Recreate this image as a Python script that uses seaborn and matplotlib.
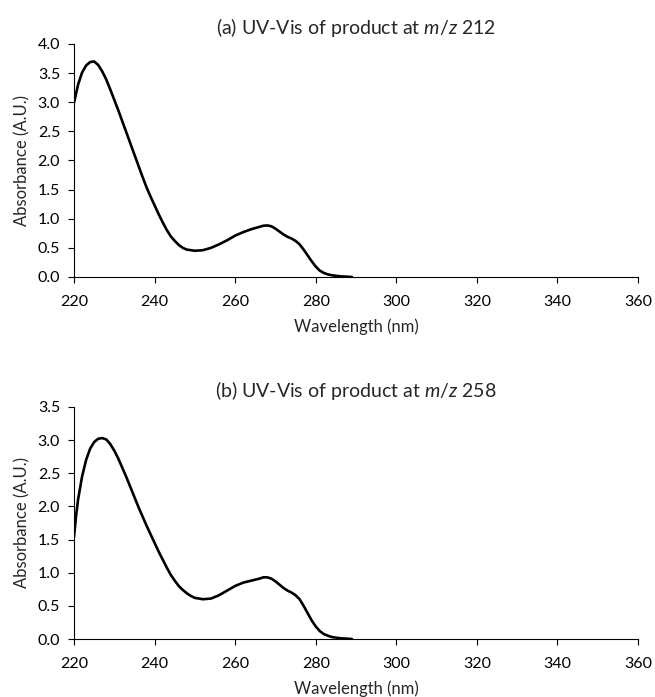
import seaborn as sns
import matplotlib.pyplot as plt

# Absorbance spectra
wl_a = [220, 221, 222, 223, 224, 225, 226, 227, 228, 229, 230, 231, 232, 233, 234,
        235, 236, 237, 238, 239, 240, 241, 242, 243, 244, 245, 246, 247, 248, 250,
        252, 254, 256, 258, 260, 262, 264, 266, 267, 268, 269, 270, 271, 272, 273,
        274, 275, 276, 277, 278, 279, 280, 281, 282, 283, 284, 286, 289]
abs_a = [2.99, 3.30, 3.51, 3.63, 3.69, 3.70, 3.64, 3.53, 3.39, 3.22, 3.04, 2.86,
         2.67, 2.48, 2.29, 2.10, 1.91, 1.72, 1.54, 1.38, 1.23, 1.08, 0.94, 0.81,
         0.70, 0.62, 0.55, 0.50, 0.47, 0.45, 0.46, 0.50, 0.56, 0.63, 0.71, 0.77,
         0.82, 0.86, 0.88, 0.885, 0.87, 0.83, 0.78, 0.73, 0.69, 0.66, 0.62, 0.56,
         0.47, 0.37, 0.27, 0.18, 0.11, 0.07, 0.045, 0.03, 0.012, 0.0]

wl_b = [220, 220.5, 221, 222, 223, 224, 225, 226, 227, 228, 229, 230, 231, 232, 233,
        234, 235, 236, 237, 238, 239, 240, 241, 242, 243, 244, 245, 246, 247, 248,
        249, 250, 252, 254, 256, 258, 260, 262, 264, 266, 267, 268, 269, 270, 271,
        272, 273, 274, 275, 276, 277, 278, 279, 280, 281, 282, 283, 284, 286, 289]
abs_b = [1.54, 1.85, 2.10, 2.45, 2.70, 2.87, 2.97, 3.02, 3.03, 3.01, 2.94, 2.84,
         2.72, 2.58, 2.44, 2.29, 2.14, 1.99, 1.85, 1.71, 1.58, 1.45, 1.32, 1.20,
         1.08, 0.97, 0.88, 0.80, 0.74, 0.69, 0.65, 0.62, 0.60, 0.61, 0.66, 0.73,
         0.80, 0.85, 0.88, 0.91, 0.93, 0.93, 0.91, 0.87, 0.82, 0.77, 0.73, 0.70,
         0.66, 0.60, 0.50, 0.39, 0.28, 0.19, 0.12, 0.075, 0.05, 0.03, 0.012, 0.0]

titles = [r"(a) UV-Vis of product at $m/z$ 212", r"(b) UV-Vis of product at $m/z$ 258"]
yticks_a = [0.0, 0.5, 1.0, 1.5, 2.0, 2.5, 3.0, 3.5, 4.0]
yticks_b = [0.0, 0.5, 1.0, 1.5, 2.0, 2.5, 3.0, 3.5]
xticks = [220, 240, 260, 280, 300, 320, 340, 360]

sns.set_style("ticks")
plt.rcParams['font.family'] = ['Lato', 'DejaVu Sans']
plt.rcParams['mathtext.fontset'] = 'custom'
plt.rcParams['mathtext.it'] = 'Lato:italic'
plt.rcParams['mathtext.rm'] = 'Lato'

fig = plt.figure(figsize=(6.55, 6.97), dpi=100)
ax1 = fig.add_axes([0.113, 0.6026, 0.861, 0.3343])
ax2 = fig.add_axes([0.113, 0.0832, 0.861, 0.3330])

for ax, x, y, title, yt in [(ax1, wl_a, abs_a, titles[0], yticks_a),
                            (ax2, wl_b, abs_b, titles[1], yticks_b)]:
    sns.lineplot(x=x, y=y, ax=ax, color="black", linewidth=1.9, sort=False)
    ax.set_xlim(220, 360)
    ax.set_ylim(yt[0], yt[-1])
    ax.set_xticks(xticks)
    ax.set_yticks(yt)
    ax.set_yticklabels([f"{v:.1f}" for v in yt])
    ax.tick_params(labelsize=11.5, length=4, width=0.8, color="black", labelcolor="black")
    ax.tick_params(axis="x", pad=9)
    ax.tick_params(axis="y", pad=6)
    ax.set_xlabel("Wavelength (nm)", fontsize=12, labelpad=7)
    ax.set_ylabel("Absorbance (A.U.)", fontsize=12, labelpad=5)
    ax.set_title(title, fontsize=14, pad=7)
    for s in ["top", "right"]:
        ax.spines[s].set_visible(False)
    for s in ["left", "bottom"]:
        ax.spines[s].set_color("black")
        ax.spines[s].set_linewidth(0.8)

fig.savefig("out.png", dpi=100, facecolor="white")
